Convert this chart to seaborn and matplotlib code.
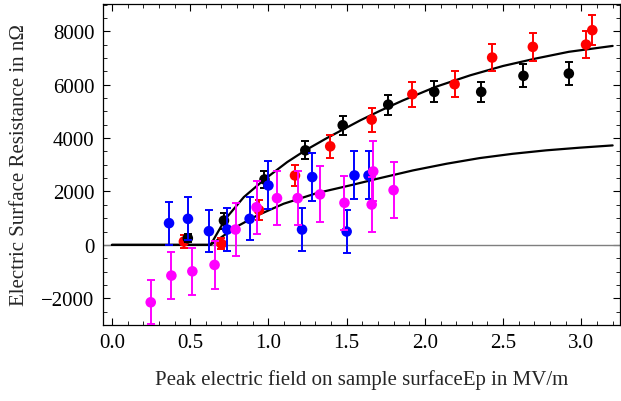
import matplotlib
matplotlib.use("Agg")
import matplotlib.pyplot as plt
from matplotlib.ticker import MultipleLocator, FuncFormatter
import seaborn as sns
import pandas as pd

# ---- data ----
red_x = [0.46, 0.70, 0.94, 1.17, 1.395, 1.66, 1.92, 2.19, 2.43, 2.69, 3.03, 3.07]
red_y = [125, 40, 1300, 2600, 3690, 4690, 5640, 6015, 7015, 7415, 7500, 8040]
red_e = [250, 200, 375, 390, 420, 450, 470, 490, 510, 525, 520, 560]

black_x = [0.485, 0.716, 0.975, 1.236, 1.475, 1.766, 2.06, 2.36, 2.63, 2.92]
black_y = [250, 912, 2450, 3540, 4480, 5250, 5730, 5730, 6330, 6415]
black_e = [150, 300, 330, 340, 360, 375, 390, 380, 425, 420]

blue_x = [0.365, 0.486, 0.62, 0.737, 0.88, 1.0, 1.215, 1.28, 1.50, 1.55, 1.64]
blue_y = [814, 975, 513, 575, 975, 2225, 575, 2540, 500, 2600, 2600]
blue_e = [800, 810, 790, 790, 800, 900, 800, 900, 800, 900, 900]

mag_x = [0.248, 0.38, 0.514, 0.656, 0.79, 0.924, 1.055, 1.187, 1.33, 1.486, 1.66, 1.67, 1.80]
mag_y = [-2150, -1150, -990, -750, 575, 1410, 1750, 1750, 1890, 1575, 1510, 2750, 2050]
mag_e = [830, 890, 890, 900, 990, 1000, 1020, 1020, 1050, 1020, 1025, 1125, 1060]

upper_x = [0.0, 0.63, 0.726, 0.843, 0.98, 1.12, 1.236, 1.374, 1.48, 1.586, 1.713,
           1.86, 2.07, 2.29, 2.5, 2.71, 2.92, 3.2]
upper_y = [0, 0, 975, 1790, 2475, 3100, 3540, 4000, 4330, 4660, 5020,
           5410, 5920, 6350, 6700, 6980, 7230, 7450]

lower_x = [0.0, 0.63, 0.79, 0.928, 1.097, 1.31, 1.52, 1.713, 1.925, 2.14, 2.35,
           2.56, 2.775, 2.99, 3.2]
lower_y = [0, 0, 660, 1100, 1540, 1940, 2225, 2500, 2790, 3040, 3250,
           3410, 3540, 3640, 3725]

x_ticks = [0.0, 0.5, 1.0, 1.5, 2.0, 2.5, 3.0]
y_ticks = [-2000, 0, 2000, 4000, 6000, 8000]

xlabel = "Peak electric field on sample surfaceEp in MV/m"
ylabel = "Electric Surface Resistance in n\u03a9"

# ---- style ----
sns.set_style("white")
plt.rcParams["font.family"] = ["Liberation Serif", "DejaVu Serif"]
plt.rcParams["mathtext.fontset"] = "stix"

fig = plt.figure(figsize=(6.21, 4.02), dpi=100)
ax = fig.add_axes([103 / 621, 76 / 402, (620 - 103) / 621, (326 - 5) / 402])

# zero axis line
ax.axhline(0, color="#7f7f7f", lw=1.0, zorder=1)

# fit curves
sns.lineplot(x=upper_x, y=upper_y, ax=ax, color="black", lw=1.6,
             estimator=None, sort=False, zorder=2)
sns.lineplot(x=lower_x, y=lower_y, ax=ax, color="black", lw=1.6,
             estimator=None, sort=False, zorder=2)

series = [
    (red_x, red_y, red_e, "#ff0000"),
    (black_x, black_y, black_e, "#000000"),
    (blue_x, blue_y, blue_e, "#0000ff"),
    (mag_x, mag_y, mag_e, "#ff00ff"),
]
z = 3
for xs, ys, es, col in series:
    ax.errorbar(xs, ys, yerr=es, fmt="none", ecolor=col, elinewidth=1.4,
                capsize=3, capthick=1.4, zorder=z)
    df = pd.DataFrame({"x": xs, "y": ys})
    sns.scatterplot(data=df, x="x", y="y", ax=ax, color=col, s=58,
                    edgecolor="none", linewidth=0, zorder=z + 0.5)
    z += 1

ax.set_xlim(-0.057, 3.247)
ax.set_ylim(-3000, 9020)

ax.set_xticks(x_ticks)
ax.set_yticks(y_ticks)
ax.xaxis.set_minor_locator(MultipleLocator(0.1))
ax.yaxis.set_minor_locator(MultipleLocator(500))
ax.xaxis.set_major_formatter(FuncFormatter(lambda v, p: f"{v:.1f}"))
ax.yaxis.set_major_formatter(FuncFormatter(lambda v, p: f"\u2212{abs(int(v))}" if v < 0 else f"{int(v)}"))

ax.tick_params(which="both", direction="in", top=True, right=True,
               bottom=True, left=True, colors="black", labelsize=15)
ax.tick_params(which="major", length=5, width=0.8, pad=6)
ax.tick_params(which="minor", length=3, width=0.6)

for sp in ax.spines.values():
    sp.set_visible(True)
    sp.set_color("black")
    sp.set_linewidth(0.9)

ax.set_xlabel(xlabel, fontsize=15, labelpad=12)
ax.set_ylabel(ylabel, fontsize=15, labelpad=9)

fig.savefig("out.png", dpi=100)
